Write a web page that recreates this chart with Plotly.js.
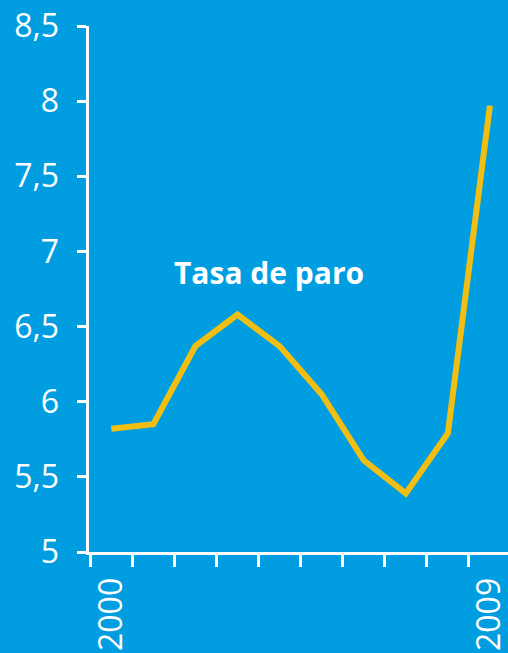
<!DOCTYPE html>
<html>
<head>
<meta charset="utf-8">
<script src="https://cdn.plot.ly/plotly-3.0.1.min.js"></script>
<style>html,body{margin:0;padding:0;background:#009ee0;}#chart{width:508px;height:653px;}</style>
</head>
<body>
<div id="chart"></div>
<script>
const years = [2000, 2001, 2002, 2003, 2004, 2005, 2006, 2007, 2008, 2009];
const tasaParo = [5.82, 5.85, 6.37, 6.58, 6.37, 6.05, 5.61, 5.39, 5.79, 7.97];
const yTickVals = [5, 5.5, 6, 6.5, 7, 7.5, 8, 8.5];
const yTickText = ['5', '5,5', '6', '6,5', '7', '7,5', '8', '8,5'];
const xLabelYears = [2000, 2009];
const seriesLabel = 'Tasa de paro';

const boundaries = years.map(y => y - 0.5);

const trace = {
  x: years, y: tasaParo, type: 'scatter', mode: 'lines',
  line: {color: '#f3be12', width: 6},
  hoverinfo: 'skip', showlegend: false
};

const layout = {
  width: 508, height: 653,
  paper_bgcolor: '#009ee0', plot_bgcolor: '#009ee0',
  margin: {l: 89, r: 0, t: 26, b: 101, pad: 0},
  font: {family: 'Open Sans, sans-serif', color: '#ffffff'},
  xaxis: {
    type: 'linear', range: [1999.47, 2009.43],
    showgrid: false, zeroline: false,
    showline: true, linecolor: '#ffffff', linewidth: 3,
    tickmode: 'array', tickvals: xLabelYears, ticktext: xLabelYears.map(String),
    ticks: '', tickangle: -90, ticklabelstandoff: 10, ticklabeloverflow: 'allow',
    tickfont: {size: 32, color: '#ffffff', family: 'Open Sans, sans-serif'},
    minor: {tickmode: 'array', tickvals: boundaries, ticks: 'outside', ticklen: 12, tickwidth: 3, tickcolor: '#ffffff', showgrid: false}
  },
  yaxis: {
    range: [5, 8.5], showgrid: false, zeroline: false,
    showline: true, linecolor: '#ffffff', linewidth: 3.5,
    tickmode: 'array', tickvals: yTickVals, ticktext: yTickText,
    ticks: 'outside', ticklen: 9, tickwidth: 3, tickcolor: '#ffffff',
    ticklabelstandoff: 11,
    tickfont: {size: 32, color: '#ffffff', family: 'Open Sans, sans-serif'}
  },
  annotations: [{
    x: 2003.74, y: 6.86, xref: 'x', yref: 'y', text: '<b>' + seriesLabel + '</b>',
    showarrow: false, font: {size: 30, color: '#ffffff', family: 'Open Sans, sans-serif'}
  }]
};

Plotly.newPlot('chart', [trace], layout, {displayModeBar: false, staticPlot: true});
</script>
</body>
</html>
